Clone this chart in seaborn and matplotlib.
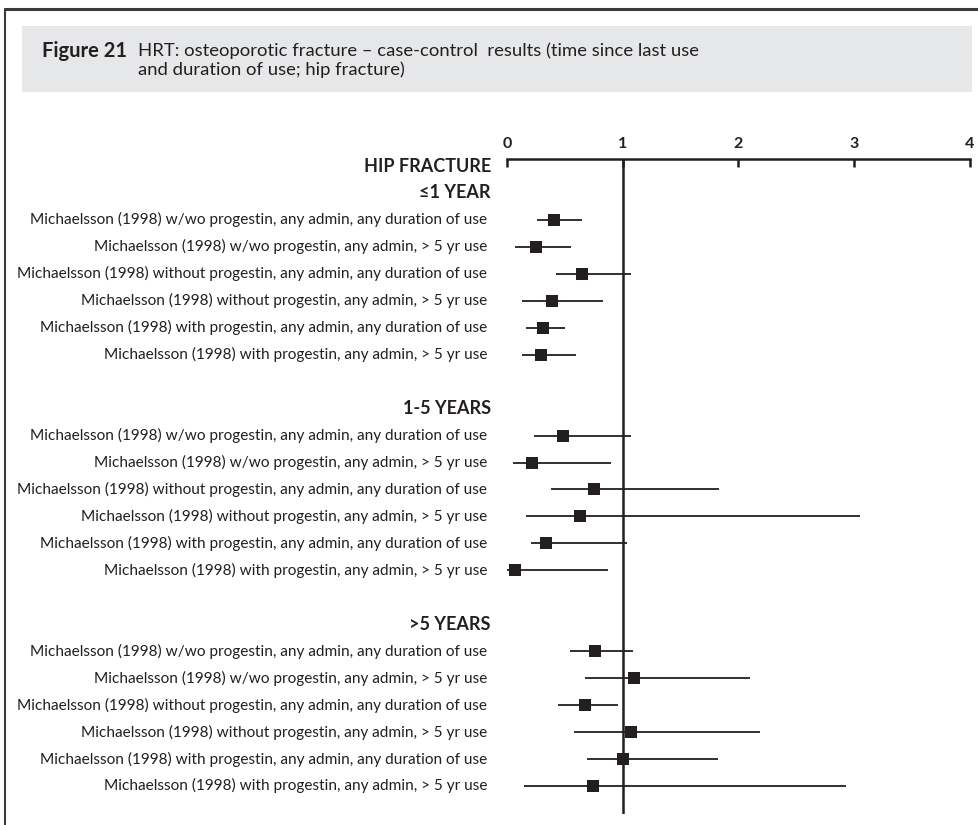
import matplotlib
matplotlib.use("Agg")
import matplotlib.pyplot as plt
from matplotlib.lines import Line2D
from matplotlib.patches import Rectangle
import numpy as np
import pandas as pd
import seaborn as sns

sns.set_theme(style="white")
plt.rcParams["font.family"] = ["Lato", "DejaVu Sans"]

INK = "#231f20"
W, H = 979, 825

# --- data ------------------------------------------------------------------
STUDY_LABELS = [
    "Michaelsson (1998) w/wo progestin, any admin, any duration of use",
    "Michaelsson (1998) w/wo progestin, any admin, > 5 yr use",
    "Michaelsson (1998) without progestin, any admin, any duration of use",
    "Michaelsson (1998) without progestin, any admin, > 5 yr use",
    "Michaelsson (1998) with progestin, any admin, any duration of use",
    "Michaelsson (1998) with progestin, any admin, > 5 yr use",
]
SECTIONS = ["\u22641 YEAR", "1-5 YEARS", ">5 YEARS"]

or_le1 = [0.41, 0.25, 0.65, 0.39, 0.31, 0.29]
lo_le1 = [0.26, 0.07, 0.42, 0.13, 0.16, 0.13]
hi_le1 = [0.65, 0.55, 1.07, 0.83, 0.50, 0.60]

or_1to5 = [0.48, 0.22, 0.75, 0.63, 0.34, 0.07]
lo_1to5 = [0.23, 0.05, 0.38, 0.16, 0.21, 0.00]
hi_1to5 = [1.07, 0.90, 1.83, 3.05, 1.04, 0.87]

or_gt5 = [0.76, 1.10, 0.67, 1.07, 1.00, 0.74]
lo_gt5 = [0.54, 0.67, 0.44, 0.58, 0.69, 0.15]
hi_gt5 = [1.09, 2.10, 0.96, 2.19, 1.82, 2.93]

x_ticks = [0, 1, 2, 3, 4]


def build_rows():
    """Row layout: section title, 6 studies, one blank line, ..."""
    rows = []
    pos = 1
    for sec, ors, los, his in zip(SECTIONS,
                                  [or_le1, or_1to5, or_gt5],
                                  [lo_le1, lo_1to5, lo_gt5],
                                  [hi_le1, hi_1to5, hi_gt5]):
        rows.append({"label": sec, "pos": pos, "header": True,
                     "or": np.nan, "lo": np.nan, "hi": np.nan})
        for lab, o, l, h in zip(STUDY_LABELS, ors, los, his):
            pos += 1
            rows.append({"label": lab, "pos": pos, "header": False,
                         "or": o, "lo": l, "hi": h})
        pos += 2
    return pd.DataFrame(rows)


df = build_rows()
studies = df[~df["header"]]

fig = plt.figure(figsize=(W / 100, H / 100), dpi=100)

# outer frame (top + left) and grey title band
fig.add_artist(Line2D([5 / W, 1], [1 - 9 / H, 1 - 9 / H], color="#3a3a3a", lw=2.2))
fig.add_artist(Line2D([5 / W, 5 / W], [1 - 9 / H, 0], color="#3a3a3a", lw=1.5))
fig.add_artist(Rectangle((22 / W, 1 - 92 / H), (972 - 22) / W, (92 - 26) / H,
                         transform=fig.transFigure, color="#e6e7e8", lw=0))
fig.text(42 / W, 1 - 51 / H, "Figure 21", fontsize=14.5, fontweight="bold",
         color=INK, va="center")
fig.text(138 / W, 1 - 51 / H,
         "HRT: osteoporotic fracture \u2013 case-control  results (time since last use",
         fontsize=13.3, color=INK, va="center")
fig.text(138 / W, 1 - 70 / H, "and duration of use; hip fracture)",
         fontsize=13.3, color=INK, va="center")

ax = fig.add_axes([507 / W, 1 - 814 / H, (970 - 507) / W, (814 - 159) / H])
ax.set_xlim(0, 4)
ax.set_ylim(24.04, -0.26)

ax.hlines(studies["pos"], studies["lo"], studies["hi"], color=INK, lw=1.3,
          clip_on=False)
sns.scatterplot(data=studies, x="or", y="pos", marker="s", s=80, color=INK,
                edgecolor=INK, linewidth=0, ax=ax, clip_on=False, zorder=3)
ax.axvline(1, color=INK, lw=1.8)

for sp in ["left", "right", "bottom"]:
    ax.spines[sp].set_visible(False)
ax.spines["top"].set_linewidth(1.8)
ax.spines["top"].set_color(INK)
ax.xaxis.tick_top()
ax.set_xticks(x_ticks)
ax.set_xticklabels(["0", "1", "2", "3", "4"], fontweight="bold", fontsize=11.5)
ax.tick_params(axis="x", direction="in", length=6, width=1.8, color=INK,
               labelcolor=INK, pad=6)
ax.set_yticks([])
ax.set_xlabel("")
ax.set_ylabel("")

lab_tf = ax.get_yaxis_transform()
ax.text(-0.035, 0, "HIP FRACTURE", transform=lab_tf, ha="right", va="center",
        fontsize=13, fontweight="bold", color=INK)
for _, r in df.iterrows():
    if r["header"]:
        ax.text(-0.035, r["pos"], r["label"], transform=lab_tf, ha="right",
                va="center", fontsize=13, fontweight="bold", color=INK)
    else:
        ax.text(-0.043, r["pos"], r["label"], transform=lab_tf, ha="right",
                va="center", fontsize=11.1, color=INK)

fig.savefig("out.png", dpi=100)
